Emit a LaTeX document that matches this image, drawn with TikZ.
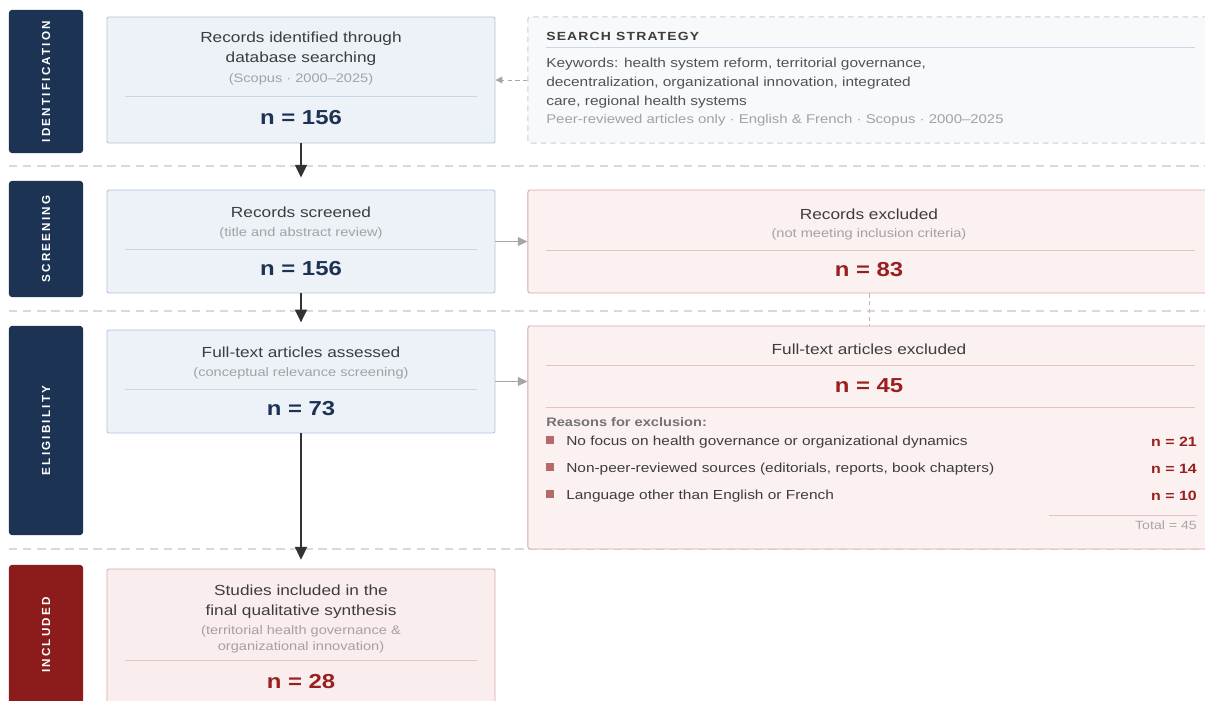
\documentclass[tikz,border=0pt]{standalone}
\usepackage{fontspec}
\setmainfont[FakeStretch=1.18]{Liberation Sans}
\newfontfamily\labelfont[LetterSpace=19]{Liberation Sans}
\newfontfamily\capsfont[FakeStretch=1.18,LetterSpace=10]{Liberation Sans}
\usepackage{tikz}
\usetikzlibrary{arrows.meta}
\usetikzlibrary{positioning}

\definecolor{navy}{HTML}{1D3354}
\definecolor{maroon}{HTML}{8C1B1B}
\definecolor{nred}{HTML}{9A1F1F}
\definecolor{bluefill}{HTML}{EDF2F9}
\definecolor{blueline}{HTML}{B3C4DA}
\definecolor{pinkfill}{HTML}{FCF1F1}
\definecolor{pinkline}{HTML}{DCA8A8}
\definecolor{incfill}{HTML}{FAEDED}
\definecolor{searchfill}{HTML}{F8F9FB}
\definecolor{searchline}{HTML}{C4D0E1}
\definecolor{txt}{HTML}{3D3D3D}
\definecolor{subtxt}{HTML}{A2A2A2}
\definecolor{sepline}{HTML}{D6DAE0}
\definecolor{bulletred}{HTML}{B86A6A}

\begin{document}
\begin{tikzpicture}[x=0.025cm,y=-0.025cm,
  stage/.style={fill=navy,rounded corners=2pt,rotate=90,text=white,inner sep=0pt,
    font=\labelfont\bfseries\fontsize{8.3}{10}\selectfont},
  mainbox/.style={draw=blueline,fill=bluefill,line width=0.6pt,rounded corners=1.5pt,
    minimum width=9.7cm},
  sidebox/.style={draw=pinkline,fill=pinkfill,line width=0.6pt,rounded corners=1.5pt,
    minimum width=17.05cm},
  srchbox/.style={draw=searchline,fill=searchfill,line width=0.7pt,rounded corners=1.5pt,
    dash pattern=on 4pt off 3pt,minimum width=17.05cm},
  boxtitle/.style={text=txt,align=center,inner sep=0pt,font=\fontsize{10.4}{14}\selectfont},
  boxsub/.style={text=subtxt,align=center,inner sep=0pt,font=\fontsize{8.8}{11.3}\selectfont},
  ncount/.style={text=navy,inner sep=0pt,font=\bfseries\fontsize{14.4}{16}\selectfont},
  item/.style={anchor=west,text=txt,inner sep=0pt,font=\fontsize{9.3}{13.4}\selectfont},
  itemn/.style={anchor=east,text=nred,inner sep=0pt,font=\bfseries\fontsize{9.6}{12}\selectfont},
  bulletsq/.style={fill=bulletred,minimum size=0.2cm,inner sep=0pt},
  rule/.style={draw=blueline!70,line width=0.5pt},
  pinkrule/.style={draw=pinkline!70,line width=0.5pt},
  flow/.style={draw=black!80,line width=1.1pt,-{Triangle[length=0.32cm,width=0.3cm]}},
  side/.style={draw=black!35,line width=0.8pt,-{Triangle[length=0.24cm,width=0.22cm]}},
  hint/.style={draw=black!35,line width=0.7pt,dash pattern=on 3pt off 2.5pt,
    -{Triangle[length=0.17cm,width=0.17cm]}},
  sep/.style={draw=sepline,line width=0.8pt,dash pattern=on 6pt off 4pt},
]
\useasboundingbox (0,0) rectangle (1205,700);
\clip (0,0) rectangle (1205,700);

% phase separators
\draw[sep] (9,166) -- (1205,166);
\draw[sep] (9,311) -- (1205,311);
\draw[sep] (9,549) -- (1205,549);

% phase labels
\node[stage,minimum width=3.575cm,minimum height=1.85cm] (sident) at (46,81.5) {IDENTIFICATION};
\node[stage,minimum width=2.9cm,minimum height=1.85cm] (sscreen) at (46,239) {SCREENING};
\node[stage,minimum width=5.225cm,minimum height=1.85cm] (selig) at (46,430.5) {ELIGIBILITY};
\node[stage,fill=maroon,minimum width=3.5cm,minimum height=1.85cm] (sincl) at (46,635) {INCLUDED};

% main column
\node[mainbox,minimum height=3.15cm] (recid) at (301,80) {};
\node[boxtitle] (recid-t) at (301,49) {Records identified through\\database searching};
\node[boxsub] (recid-s) at (301,79) {(Scopus · 2000–2025)};
\draw[rule] (125,96) -- (477,96);
\node[ncount] (recid-n) at (301,118) {n = 156};

\node[mainbox,minimum height=2.575cm] (recscr) at (301,241.5) {};
\node[boxtitle] (recscr-t) at (301,212) {Records screened};
\node[boxsub] (recscr-s) at (301,233) {(title and abstract review)};
\draw[rule] (125,249) -- (477,249);
\node[ncount] (recscr-n) at (301,269) {n = 156};

\node[mainbox,minimum height=2.575cm] (fulltxt) at (301,381.5) {};
\node[boxtitle] (fulltxt-t) at (301,352) {Full-text articles assessed};
\node[boxsub] (fulltxt-s) at (301,373) {(conceptual relevance screening)};
\draw[rule] (125,389) -- (477,389);
\node[ncount] (fulltxt-n) at (301,409) {n = 73};

\node[mainbox,draw=pinkline,fill=incfill,minimum height=3.65cm] (incl) at (301,642) {};
\node[boxtitle] (incl-t) at (301,601.5) {Studies included in the\\final qualitative synthesis};
\node[boxsub] (incl-s) at (301,639) {(territorial health governance \&\\organizational innovation)};
\draw[pinkrule] (125,660) -- (477,660);
\node[ncount,text=nred] (incl-n) at (301,682) {n = 28};

% search strategy
\node[srchbox,minimum height=3.15cm] (srch) at (869,80) {};
\node[anchor=west,inner sep=0pt,text=txt,font=\capsfont\bfseries\fontsize{8.4}{10}\selectfont] (srch-h) at (546,36) {SEARCH STRATEGY};
\draw[rule] (546,47) -- (1195,47);
\node[item,align=left,text=black!68] (srch-k) at (546,83) {Keywords: health system reform, territorial governance,\\decentralization, organizational innovation, integrated\\care, regional health systems};
\node[item,text=subtxt,font=\fontsize{9}{12}\selectfont] (srch-f) at (546,120) {Peer-reviewed articles only · English \& French · Scopus · 2000–2025};

% exclusions
\node[sidebox,minimum height=2.575cm] (recexc) at (869,241.5) {};
\node[boxtitle] (recexc-t) at (869,214) {Records excluded};
\node[boxsub] (recexc-s) at (869,234) {(not meeting inclusion criteria)};
\draw[pinkrule] (546,250) -- (1195,250);
\node[ncount,text=nred] (recexc-n) at (869,270) {n = 83};

\node[sidebox,minimum height=5.575cm] (ftexc) at (869,437.5) {};
\node[boxtitle] (ftexc-t) at (869,349) {Full-text articles excluded};
\draw[pinkrule] (546,365) -- (1195,365);
\node[ncount,text=nred] (ftexc-n) at (869,386) {n = 45};
\draw[pinkrule] (546,407) -- (1195,407);
\node[anchor=west,inner sep=0pt,text=black!55,font=\bfseries\fontsize{8.8}{11}\selectfont] (why) at (546,422) {Reasons for exclusion:};
\node[bulletsq] (r1-b) at (550,440) {};
\node[item] (r1) at (566,442) {No focus on health governance or organizational dynamics};
\node[itemn] (r1-n) at (1197,442) {n = 21};
\node[bulletsq] (r2-b) at (550,467) {};
\node[item] (r2) at (566,469) {Non-peer-reviewed sources (editorials, reports, book chapters)};
\node[itemn] (r2-n) at (1197,469) {n = 14};
\node[bulletsq] (r3-b) at (550,494) {};
\node[item] (r3) at (566,496) {Language other than English or French};
\node[itemn] (r3-n) at (1197,496) {n = 10};
\draw[pinkrule] (1049,515) -- (1197,515);
\node[anchor=east,inner sep=0pt,text=black!35,font=\fontsize{8.5}{10}\selectfont] (total) at (1197,525) {Total = 45};

% connectors
\draw[flow,shorten >=0.3cm] (recid) -- (recscr);
\draw[flow,shorten >=0.18cm] (recscr) -- (fulltxt);
\draw[flow,shorten >=0.22cm] (fulltxt) -- (incl);
\draw[hint] (srch) -- (recid);
\draw[side] (recscr) -- (recexc);
\draw[side] (fulltxt.east) -- (fulltxt.east -| ftexc.west);
\draw[pinkline,line width=0.7pt,dash pattern=on 3pt off 2.5pt] (recexc) -- (ftexc);
\end{tikzpicture}
\end{document}
